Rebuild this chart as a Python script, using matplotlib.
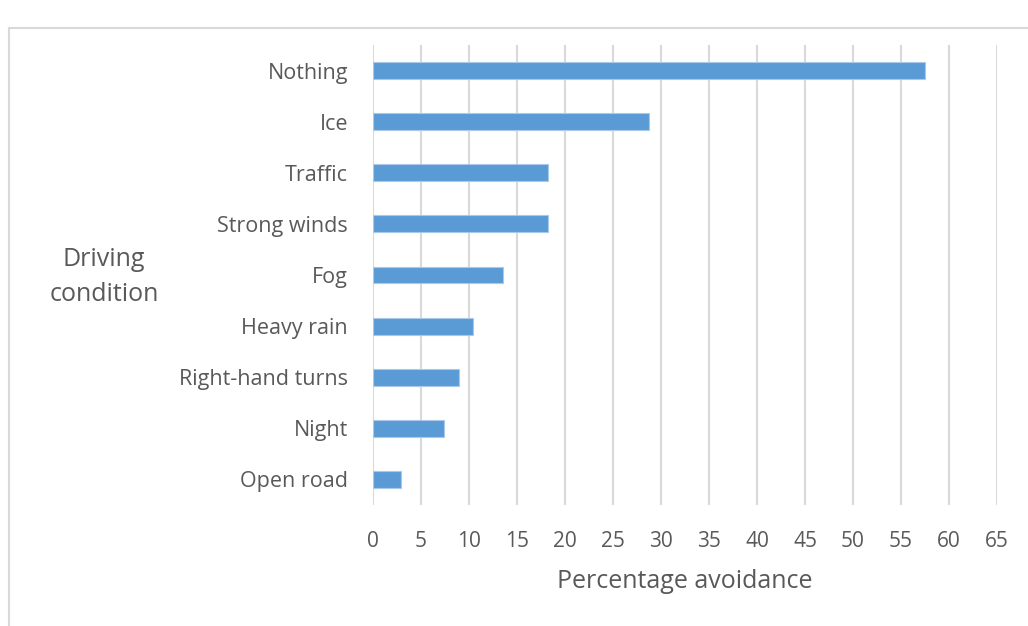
import matplotlib.pyplot as plt
from matplotlib.lines import Line2D

# avoidance by driving condition, bottom to top
conditions = ['Open road', 'Night', 'Right-hand turns', 'Heavy rain', 'Fog',
              'Strong winds', 'Traffic', 'Ice', 'Nothing']
avoidance = [2.9, 7.4, 9.0, 10.4, 13.5, 18.2, 18.2, 28.7, 57.5]
xticks = list(range(0, 70, 5))

txt = '#595959'
plt.rcParams['font.family'] = ['Open Sans', 'DejaVu Sans']

fig = plt.figure(figsize=(10.28, 6.26), dpi=100)
ax = fig.add_axes([373 / 1028, 1 - 505 / 626, 624 / 1028, 460 / 626])

ypos = list(range(len(conditions)))
ax.barh(ypos, avoidance, height=0.33, color='#5B9BD5',
        edgecolor='#a9c8ea', linewidth=0.8, zorder=3)

ax.set_xlim(0, 65)
ax.set_ylim(-0.5, len(conditions) - 0.5)
ax.set_xticks(xticks)
ax.set_yticks(ypos)
ax.set_yticklabels(conditions)
ax.xaxis.grid(True, color='#d9d9d9', linewidth=1.5, zorder=0)
ax.tick_params(axis='x', length=0, labelsize=15, colors=txt, pad=19)
ax.tick_params(axis='y', length=0, labelsize=15.5, colors=txt, pad=18)
for s in ax.spines.values():
    s.set_visible(False)

ax.set_xlabel('Percentage avoidance', fontsize=18, color=txt, labelpad=12)
fig.text(104 / 1028, 1 - 277 / 626, 'Driving\ncondition', ha='center',
         va='center', fontsize=18, color=txt, linespacing=1.5)

# chart frame (left and top edges)
fig.add_artist(Line2D([9 / 1028, 9 / 1028], [0, 1 - 28 / 626],
                      transform=fig.transFigure, color='#d9d9d9', lw=1.5))
fig.add_artist(Line2D([9 / 1028, 1], [1 - 28 / 626, 1 - 28 / 626],
                      transform=fig.transFigure, color='#d9d9d9', lw=1.5))

fig.savefig('out.png', dpi=100)
